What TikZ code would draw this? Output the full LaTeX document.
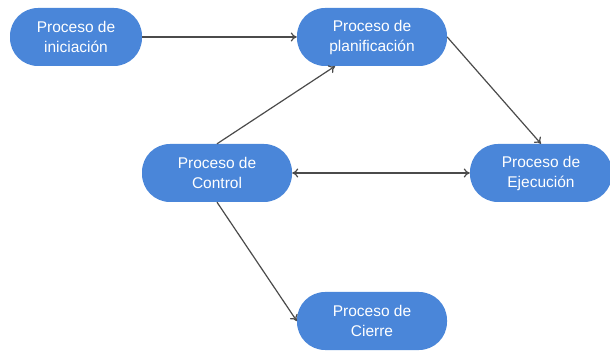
\documentclass[tikz,border=0pt]{standalone}
\usepackage{fontspec}
\setmainfont{Liberation Sans}
\usetikzlibrary{arrows.meta,calc}
\definecolor{boxblue}{RGB}{74,134,217}
\definecolor{linegray}{RGB}{75,75,75}
\begin{document}
\begin{tikzpicture}[x=1pt,y=-1pt,
  box/.style={fill=boxblue, text=white, rounded corners=28pt, minimum height=58pt,
    align=center, font=\fontsize{15.5}{20}\selectfont, inner sep=0pt},
  conn/.style={draw=linegray, line width=1.2pt, -{To[length=6pt,width=9pt]}}]
\useasboundingbox (0,0) rectangle (610,352);
\node[box, minimum width=132pt] (ini) at (76,37) {Proceso de\\iniciación};
\node[box, minimum width=150pt] (plan) at (372,37) {Proceso de\\planificación};
\node[box, minimum width=150pt] (ctrl) at (217,173) {Proceso de\\Control};
\node[box, minimum width=142pt] (eje) at (541,173) {Proceso de\\Ejecución};
\node[box, minimum width=150pt] (cie) at (372,321) {Proceso de\\Cierre};
\draw[conn] (ini.east) -- (plan.west);
\draw[conn] (ctrl.north) -- ($(plan.south)+(-37,0)$);
\draw[conn] (plan.east) -- (eje.north);
\draw[conn, {To[length=6pt,width=9pt]}-{To[length=6pt,width=9pt]}] (ctrl.east) -- (eje.west);
\draw[conn] (ctrl.south) -- (cie.west);
\end{tikzpicture}
\end{document}
